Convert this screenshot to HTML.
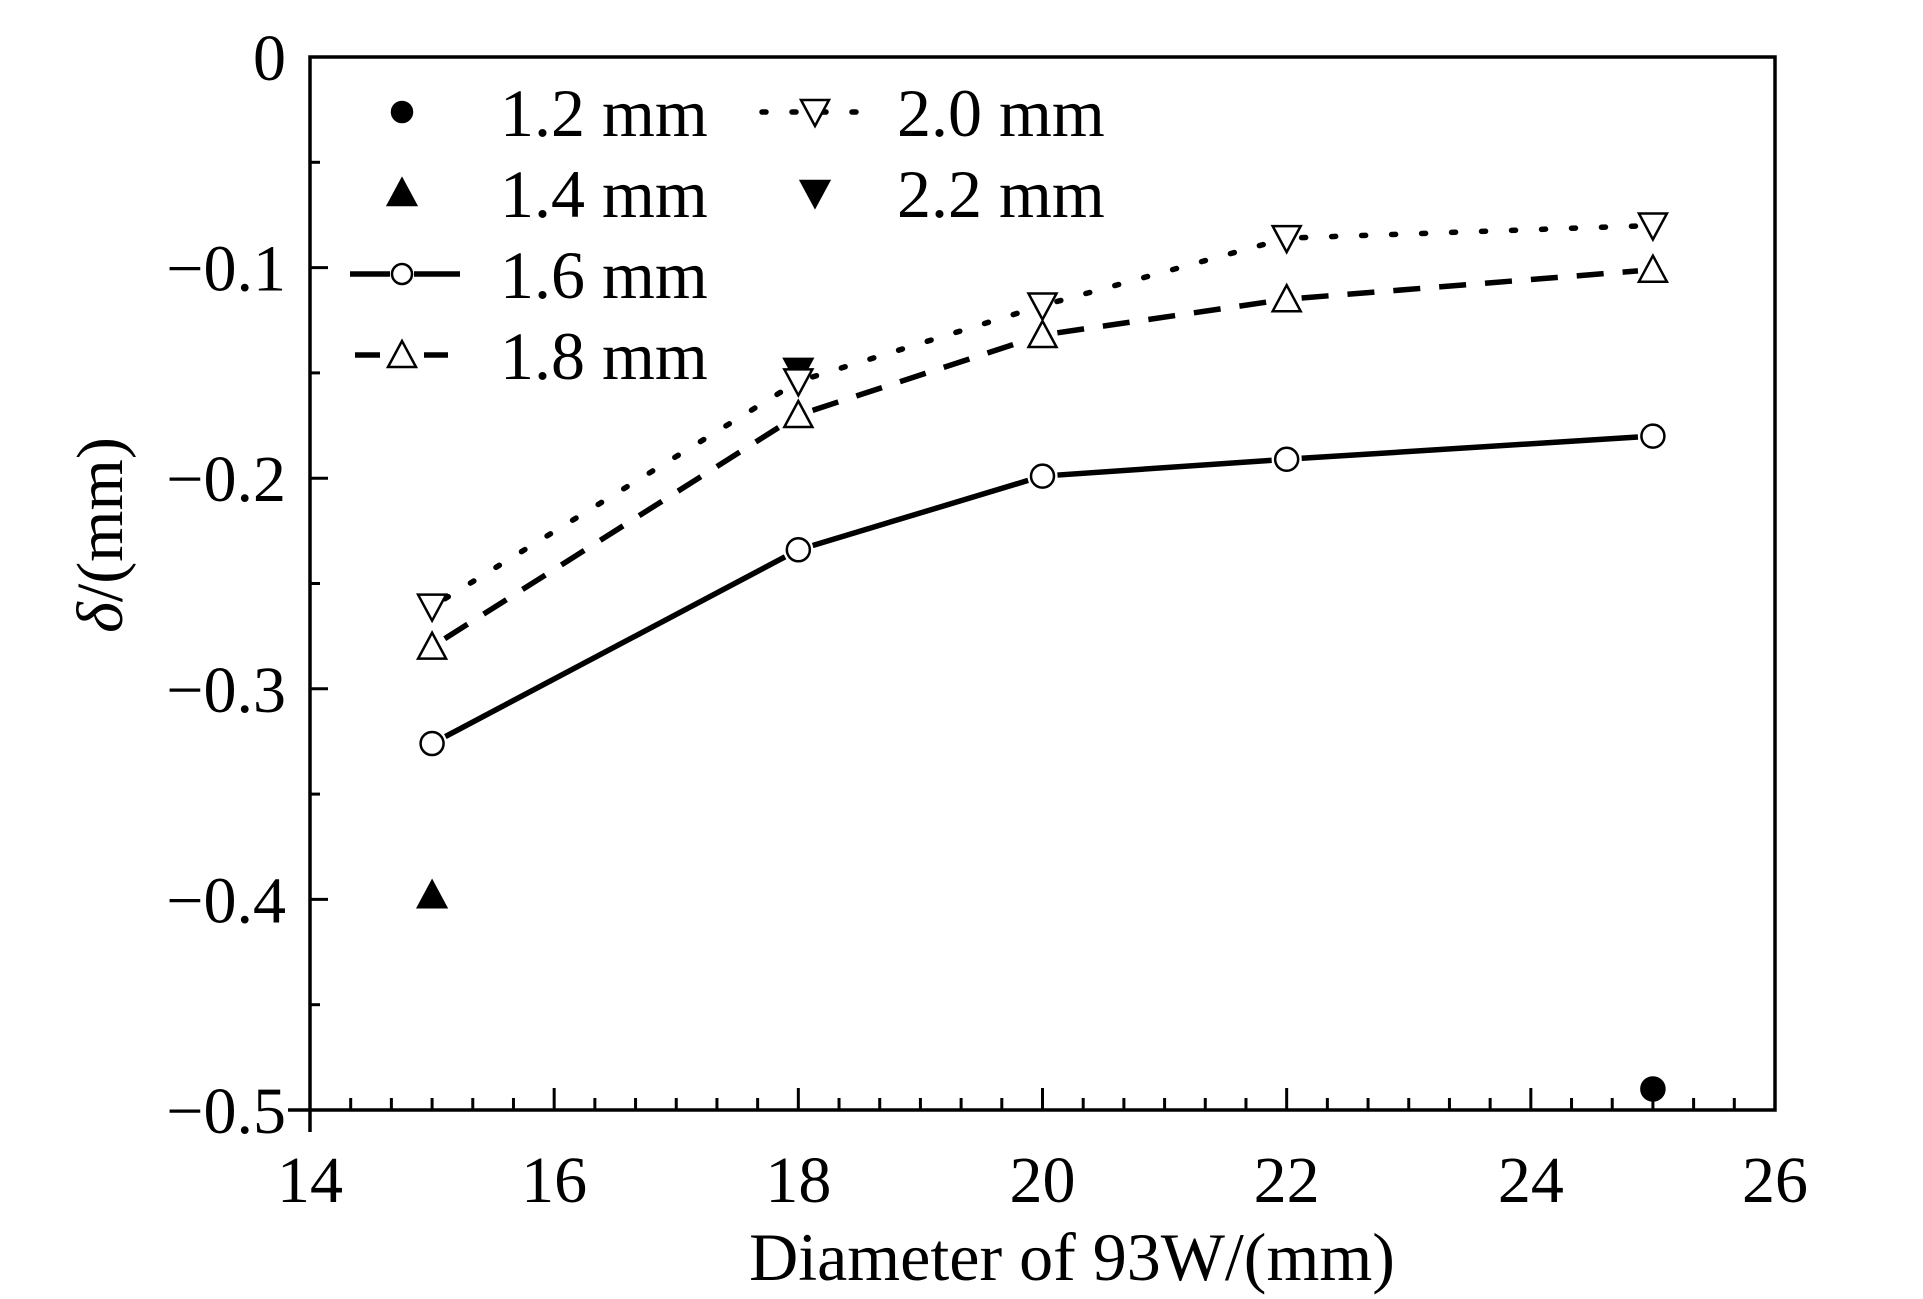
<!DOCTYPE html>
<html><head><meta charset="utf-8"><style>
body{margin:0;background:#fff}
svg{display:block}
text{font-family:"Liberation Serif",serif;fill:#000}
</style></head><body>
<svg id="chart" width="1923" height="1299" viewBox="0 0 1923 1299" xmlns="http://www.w3.org/2000/svg">
<rect width="1923" height="1299" fill="#fff"/>
<g id="axes"></g>
<g id="series"></g>
<g id="legend"></g>
<text x="1072" y="1280" font-size="68" text-anchor="middle">Diameter of 93W/(mm)</text>
<text transform="translate(122,535) rotate(-90)" font-size="66" text-anchor="middle"><tspan font-style="italic">δ</tspan>/(mm)</text>
</svg>
<script>
const xCats = [15, 18, 20, 22, 25];
const s16 = [-0.326, -0.234, -0.199, -0.191, -0.180];
const s18 = [-0.280, -0.170, -0.132, -0.115, -0.101];
const s20 = [-0.261, -0.154, -0.118, -0.086, -0.080];
const s22x = [18];
const s22 = [-0.150];
const s14x = [15];
const s14 = [-0.398];
const s12x = [25];
const s12 = [-0.490];
const xTicks = [14, 16, 18, 20, 22, 24, 26];
const yTicks = [0, -0.1, -0.2, -0.3, -0.4, -0.5];
const yTickLabels = ["0", "\u22120.1", "\u22120.2", "\u22120.3", "\u22120.4", "\u22120.5"];

const NS = "http://www.w3.org/2000/svg";
const X0 = 310, X1 = 1775, Y0 = 57, Y1 = 1110;
const xMin = 14, xMax = 26, yMin = -0.5, yMax = 0;
function sx(v){ return X0 + (v - xMin) / (xMax - xMin) * (X1 - X0); }
function sy(v){ return Y0 + (yMax - v) / (yMax - yMin) * (Y1 - Y0); }
function mk(tag, attrs, parent){
  const e = document.createElementNS(NS, tag);
  for (const k in attrs) e.setAttribute(k, attrs[k]);
  parent.appendChild(e);
  return e;
}
const axes = document.getElementById('axes');
const series = document.getElementById('series');
const legend = document.getElementById('legend');

const frame = mk('rect', {x:X0, y:Y0, width:X1-X0, height:Y1-Y0, fill:'none', stroke:'#000', 'stroke-width':3.5}, axes);


const xl = mk('line', {x1:288, y1:Y1, x2:X0, y2:Y1, stroke:'#000', 'stroke-width':3.5}, axes);


const yl = mk('line', {x1:X0, y1:Y1, x2:X0, y2:1132, stroke:'#000', 'stroke-width':3.5}, axes);



for (let v = xMin; v <= xMax + 1e-9; v += 1/3) {
  const isMajor = Math.abs((v - xMin) / 2 - Math.round((v - xMin) / 2)) < 1e-6;
  const t = mk('line', {x1:sx(v), y1:Y1, x2:sx(v), y2:Y1 - (isMajor ? 22 : 12), stroke:'#000', 'stroke-width':3}, axes);
  
  
}
xTicks.forEach(v => {
  const t = mk('text', {x:sx(v), y:1202, 'font-size':66, 'text-anchor':'middle'}, axes);
  t.textContent = v;
  
  
});
for (let i = 0; i <= 10; i++) {
  const v = -i * 0.05;
  const isMajor = i % 2 === 0;
  const t = mk('line', {x1:X0, y1:sy(v), x2:X0 + (isMajor ? 18 : 10), y2:sy(v), stroke:'#000', 'stroke-width':3}, axes);
  
  
}
yTicks.forEach((v, i) => {
  const t = mk('text', {x:286, y:sy(v) + 23, 'font-size':66, 'text-anchor':'end'}, axes);
  t.textContent = yTickLabels[i];
  
  
});

function gapLine(xs, ys, dash, cap, name){
  for (let i = 0; i < xs.length - 1; i++) {
    const ax = sx(xs[i]), ay = sy(ys[i]), bx = sx(xs[i+1]), by = sy(ys[i+1]);
    const d = Math.hypot(bx-ax, by-ay), g = 15;
    const ux = (bx-ax)/d, uy = (by-ay)/d;
    const l = mk('line', {x1:ax+ux*g, y1:ay+uy*g, x2:bx-ux*g, y2:by-uy*g, stroke:'#000', 'stroke-width':5.5, 'stroke-dasharray':dash, 'stroke-linecap':cap}, series);
    
    
  }
}
function circle(cx, cy, fill, parent, name, r){
  const c = mk('circle', {cx:cx, cy:cy, r:r || 11.5, fill:fill, stroke:'#000', 'stroke-width':2.5}, parent);
  
  
}
function tri(cx, cy, up, fill, parent, name){
  const h = 24, w = 28;
  const pts = up ? `${cx},${cy-h/2-2} ${cx-w/2},${cy+h/2} ${cx+w/2},${cy+h/2}` : `${cx},${cy+h/2+2} ${cx-w/2},${cy-h/2} ${cx+w/2},${cy-h/2}`;
  const p = mk('polygon', {points:pts, fill:fill, stroke:'#000', 'stroke-width':2.5}, parent);
  
  
}

gapLine(xCats, s16, 'none', 'butt', 'line-1.6mm');
gapLine(xCats, s18, '27 19', 'butt', 'line-1.8mm');
gapLine(xCats, s20, '4 26', 'round', 'line-2.0mm');
xCats.forEach((x, i) => circle(sx(x), sy(s16[i]), '#fff', series, 'point-1.6mm'));
xCats.forEach((x, i) => tri(sx(x), sy(s18[i]), true, '#fff', series, 'point-1.8mm'));
s22x.forEach((x, i) => tri(sx(x), sy(s22[i]) - 2, false, '#000', series, 'point-2.2mm'));
xCats.forEach((x, i) => tri(sx(x), sy(s20[i]), false, '#fff', series, 'point-2.0mm'));
s14x.forEach((x, i) => tri(sx(x), sy(s14[i]), true, '#000', series, 'point-1.4mm'));
s12x.forEach((x, i) => circle(sx(x), sy(s12[i]), '#000', series, 'point-1.2mm', 11.5));

const rows = [112, 193, 274, 355];
function ltext(x, y, s){
  const t = mk('text', {x:x, y:y + 24, 'font-size':68}, legend);
  t.textContent = s;
  
  
}
circle(402, rows[0], '#000', legend, 'legend-marker-1.2mm', 10);
ltext(500, rows[0], '1.2 mm');
tri(402, rows[1], true, '#000', legend, 'legend-marker-1.4mm');
ltext(500, rows[1], '1.4 mm');
let l1 = mk('line', {x1:350, y1:rows[2], x2:390, y2:rows[2], stroke:'#000', 'stroke-width':5.5}, legend);


let l2 = mk('line', {x1:414, y1:rows[2], x2:460, y2:rows[2], stroke:'#000', 'stroke-width':5.5}, legend);


circle(402, rows[2], '#fff', legend, 'legend-marker-1.6mm', 10);
ltext(500, rows[2], '1.6 mm');
let l3 = mk('line', {x1:355, y1:rows[3], x2:380, y2:rows[3], stroke:'#000', 'stroke-width':5.5}, legend);


let l4 = mk('line', {x1:424, y1:rows[3], x2:448, y2:rows[3], stroke:'#000', 'stroke-width':5.5}, legend);


tri(402, rows[3], true, '#fff', legend, 'legend-marker-1.8mm');
ltext(500, rows[3], '1.8 mm');
let l5 = mk('line', {x1:762, y1:rows[0], x2:870, y2:rows[0], stroke:'#000', 'stroke-width':5.5, 'stroke-dasharray':'4 26', 'stroke-linecap':'round'}, legend);


tri(815, rows[0], false, '#fff', legend, 'legend-marker-2.0mm');
ltext(897, rows[0], '2.0 mm');
tri(815, rows[1], false, '#000', legend, 'legend-marker-2.2mm');
ltext(897, rows[1], '2.2 mm');
</script>
</body></html>
